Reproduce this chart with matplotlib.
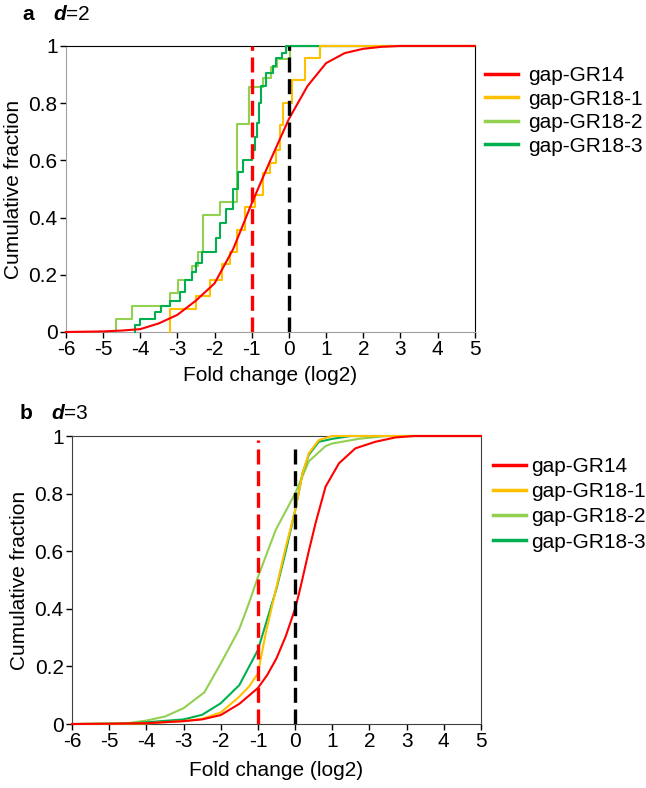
import numpy as np
import matplotlib
matplotlib.use('Agg')
import matplotlib.pyplot as plt

plt.rcParams['font.family'] = ['Liberation Sans', 'DejaVu Sans']

labels = ['gap-GR14', 'gap-GR18-1', 'gap-GR18-2', 'gap-GR18-3']
colors = ['#FF0000', '#FFC000', '#92D050', '#00B050']
xticks = [-6, -5, -4, -3, -2, -1, 0, 1, 2, 3, 4, 5]
yticks = [0, 0.2, 0.4, 0.6, 0.8, 1]
ytick_labels = ['0', '0.2', '0.4', '0.6', '0.8', '1']

# panel a (d=2): GR14 smooth, GR18 step curves (jump position, level after jump)
gr14_a_x = [-6, -5, -4.5, -4, -3.5, -3, -2.5, -2, -1.5, -1, -0.5, 0, 0.5, 1, 1.5, 2, 2.5, 3, 5]
gr14_a_y = [0, 0.002, 0.005, 0.01, 0.03, 0.06, 0.11, 0.17, 0.29, 0.45, 0.6, 0.745, 0.86, 0.94, 0.975, 0.99, 0.997, 1, 1]

gr18_1_a_x = [-3.19, -2.49, -2.13, -1.81, -1.59, -1.41, -1.19, -0.92, -0.7, -0.52, -0.34, -0.25, -0.16, 0.07, 0.42, 0.83]
gr18_1_a_y = [0.079, 0.125, 0.183, 0.236, 0.279, 0.358, 0.437, 0.48, 0.556, 0.59, 0.637, 0.724, 0.8, 0.88, 0.957, 1.0]

gr18_2_a_x = [-4.64, -4.23, -3.2, -2.98, -2.6, -2.45, -2.32, -1.86, -1.39, -1.07, -0.7, -0.48, -0.32, 0.03]
gr18_2_a_y = [0.045, 0.09, 0.136, 0.182, 0.23, 0.28, 0.41, 0.455, 0.727, 0.855, 0.887, 0.928, 0.955, 1.0]

gr18_3_a_x = [-4.15, -4.01, -3.61, -3.43, -3.2, -2.94, -2.8, -2.6, -2.5, -2.35, -1.95, -1.86, -1.68,
              -1.5, -1.37, -1.23, -1.0, -0.92, -0.86, -0.8, -0.74, -0.62, -0.43, -0.34, -0.2, -0.07]
gr18_3_a_y = [0.023, 0.045, 0.07, 0.09, 0.11, 0.14, 0.18, 0.21, 0.24, 0.28, 0.33, 0.38, 0.43,
              0.5, 0.56, 0.6, 0.637, 0.683, 0.73, 0.8, 0.86, 0.905, 0.93, 0.957, 0.975, 1.0]

# panel b (d=3)
gr14_b_x = [-6, -5, -4, -3, -2.5, -2, -1.5, -1, -0.75, -0.5, -0.25, 0, 0.1, 0.2, 0.35, 0.55, 0.82,
            1.18, 1.62, 2.16, 2.7, 3.2, 5]
gr14_b_y = [0, 0.001, 0.003, 0.01, 0.016, 0.031, 0.07, 0.125, 0.17, 0.228, 0.305, 0.4, 0.45, 0.505,
            0.59, 0.697, 0.824, 0.905, 0.957, 0.98, 0.995, 1.0, 1.0]

gr18_1_b_x = [-6, -4, -3, -2.5, -2, -1.5, -1.24, -1, -0.79, -0.52, -0.25, 0, 0.2, 0.37, 0.64, 1.0, 5]
gr18_1_b_y = [0, 0.002, 0.01, 0.018, 0.04, 0.095, 0.13, 0.175, 0.315, 0.465, 0.615, 0.74, 0.87, 0.94, 0.986, 1.0, 1.0]

gr18_2_b_x = [-6, -5, -4.5, -4, -3.5, -3, -2.44, -2, -1.5, -1.24, -1, -0.52, 0, 0.37, 0.82, 1.0, 1.71, 2.43, 5]
gr18_2_b_y = [0, 0.001, 0.003, 0.012, 0.026, 0.055, 0.11, 0.21, 0.33, 0.42, 0.51, 0.674, 0.8, 0.912, 0.965, 0.974, 0.99, 1.0, 1.0]

gr18_3_b_x = [-6, -4.5, -4, -3, -2.5, -2, -1.5, -1, -0.5, -0.25, 0, 0.2, 0.37, 0.64, 1.0, 1.5, 5]
gr18_3_b_y = [0, 0.002, 0.006, 0.016, 0.032, 0.072, 0.135, 0.257, 0.47, 0.6, 0.74, 0.87, 0.935, 0.98, 0.99, 1.0, 1.0]

fs = 15

fig = plt.figure(figsize=(6.46, 7.88), dpi=100)
ax_a = fig.add_axes([0.102, 0.5787, 0.633, 0.363])
ax_b = fig.add_axes([0.1115, 0.0812, 0.633, 0.3655])


def step_xy(xs, ys):
    # start at zero, each jump holds until the next one, run to the right edge
    x = [xs[0]] + list(xs) + [5]
    y = [0] + list(ys) + [ys[-1]]
    return x, y


# panel a
for (sx, sy), c, z in [((gr18_2_a_x, gr18_2_a_y), colors[2], 2),
                       ((gr18_3_a_x, gr18_3_a_y), colors[3], 3),
                       ((gr18_1_a_x, gr18_1_a_y), colors[1], 4)]:
    x, y = step_xy(sx, sy)
    ax_a.step(x, y, where='post', color=c, lw=1.5, zorder=z, clip_on=False)
ax_a.plot(gr14_a_x, gr14_a_y, color=colors[0], lw=1.5, zorder=5, clip_on=False)
ax_a.plot([-1, -1], [0, 1], color='#FF0000', lw=2.4, ls=(0, (4.5, 2)), zorder=6)
ax_a.plot([0, 0], [0, 1], color='black', lw=2.4, ls=(0, (4.5, 2)), zorder=6)

# panel b
for xs, ys, c, z in [(gr18_2_b_x, gr18_2_b_y, colors[2], 2),
                     (gr18_3_b_x, gr18_3_b_y, colors[3], 3),
                     (gr18_1_b_x, gr18_1_b_y, colors[1], 4),
                     (gr14_b_x, gr14_b_y, colors[0], 5)]:
    ax_b.plot(xs, ys, color=c, lw=1.5, zorder=z, clip_on=False)
ax_b.plot([-1, -1], [0, 0.985], color='#FF0000', lw=2.4, ls=(0, (4.5, 2)), zorder=6)
ax_b.plot([0, 0], [0, 0.97], color='black', lw=2.4, ls=(0, (4.5, 2)), zorder=6)

for ax in (ax_a, ax_b):
    ax.set_xlim(-6, 5)
    ax.set_ylim(0, 1)
    ax.set_xticks(xticks)
    ax.set_xticklabels([str(t) for t in xticks])
    ax.set_yticks(yticks)
    ax.set_yticklabels(ytick_labels)
    ax.tick_params(direction='out', length=4, width=1, labelsize=fs, pad=2)
    ax.set_ylabel('Cumulative fraction', fontsize=fs, labelpad=4)
ax_a.set_xlabel('Fold change (log2)', fontsize=fs, labelpad=5)
ax_b.set_xlabel('Fold change (log2)', fontsize=fs, labelpad=7)

ax_a.spines['left'].set_color('#A0A0A0')
ax_a.spines['bottom'].set_color('#A0A0A0')
ax_a.spines['top'].set_color('black')
ax_a.spines['right'].set_color('black')
for s in ax_b.spines.values():
    s.set_color('#404040')

handles_a = [plt.Line2D([], [], color=c, lw=2.5) for c in colors]
ax_a.legend(handles_a, labels, loc='upper left', bbox_to_anchor=(485 / 646, 1 - 66 / 788),
            bbox_transform=fig.transFigure, frameon=False, fontsize=fs, borderpad=0,
            borderaxespad=0, handlelength=1.6, handletextpad=0.45, labelspacing=0.22)
ax_b.legend(handles_a, labels, loc='upper left', bbox_to_anchor=(493 / 646, 1 - 457 / 788),
            bbox_transform=fig.transFigure, frameon=False, fontsize=fs, borderpad=0,
            borderaxespad=0, handlelength=1.6, handletextpad=0.25, labelspacing=0.3)

fig.text(22 / 646, 1 - 14 / 788, 'a', fontsize=fs, weight='bold', va='center')
fig.text(53 / 646, 1 - 14 / 788, 'd', fontsize=fs, weight='bold', style='italic', va='center')
fig.text(66 / 646, 1 - 14 / 788, '=2', fontsize=fs, va='center')
fig.text(20 / 646, 1 - 413 / 788, 'b', fontsize=fs, weight='bold', va='center')
fig.text(51 / 646, 1 - 413 / 788, 'd', fontsize=fs, weight='bold', style='italic', va='center')
fig.text(64 / 646, 1 - 413 / 788, '=3', fontsize=fs, va='center')

fig.savefig('out.png', dpi=100)
